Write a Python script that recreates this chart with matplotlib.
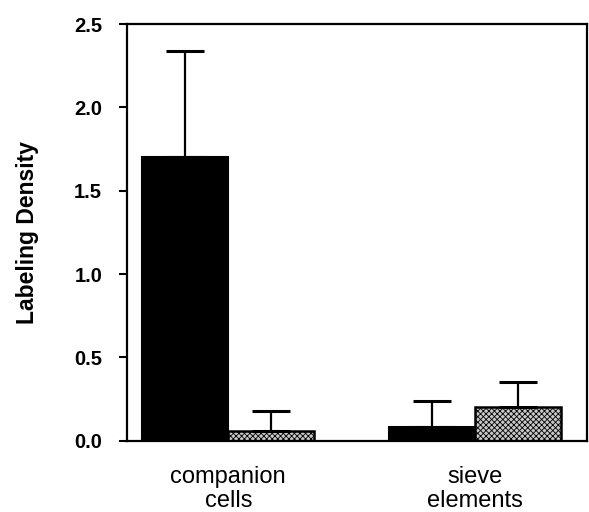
import matplotlib.pyplot as plt
import numpy as np

plt.rcParams['font.family'] = ['Liberation Sans', 'DejaVu Sans']
plt.rcParams['hatch.color'] = '#555555'
plt.rcParams['hatch.linewidth'] = 0.6

categories = ['companion\ncells', 'sieve\nelements']
black_vals = [1.70, 0.085]
black_err = [0.64, 0.155]
gray_vals = [0.06, 0.20]
gray_err = [0.12, 0.155]
yticks = [0.0, 0.5, 1.0, 1.5, 2.0, 2.5]

fig = plt.figure(figsize=(5.89, 5.12), dpi=100)
ax = fig.add_axes([0.216, 0.139, 0.781, 0.814])

x = np.arange(len(categories))
w = 0.348
err_kw = dict(ecolor='black', elinewidth=1.6, capsize=14, capthick=2.2)
ax.bar(x - w / 2, black_vals, w, color='black', edgecolor='black', linewidth=1.5,
       yerr=[np.zeros(2), black_err], error_kw=err_kw, zorder=2)
ax.bar(x + w / 2, gray_vals, w, color='#c8c8c8', edgecolor='black', linewidth=1.8,
       hatch='xxxxxx', yerr=[np.zeros(2), gray_err], error_kw=err_kw, zorder=2)

ax.set_xlim(-0.409, 1.453)
ax.set_ylim(0, 2.5)
ax.set_yticks(yticks)
ax.set_yticklabels([f'{v:.1f}' for v in yticks], fontsize=14.5, fontweight='bold')
ax.set_xticks(x)
ax.set_xticklabels(categories, fontsize=17, linespacing=1.1)
ax.tick_params(axis='x', length=0, pad=18)
ax.tick_params(axis='y', direction='out', length=6, width=1.5, pad=12)
for s in ax.spines.values():
    s.set_linewidth(1.6)
ax.set_ylabel('Labeling Density', fontsize=16.5, fontweight='bold', labelpad=25)

fig.savefig('out.png', dpi=100)
